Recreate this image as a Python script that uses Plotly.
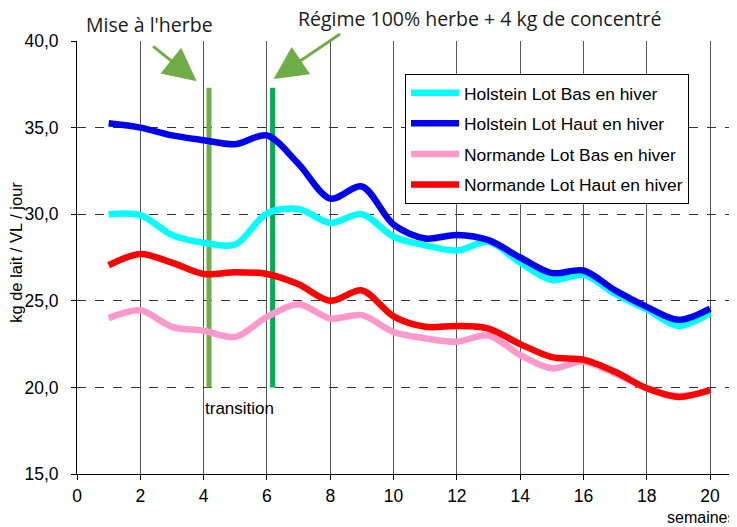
import plotly.graph_objects as go

# semaines
weeks = list(range(1, 21))

# kg de lait / VL / jour
holstein_bas = [30.0, 29.95, 28.8, 28.35, 28.25, 30.05, 30.3, 29.5, 30.0, 28.7,
                28.2, 27.9, 28.4, 27.2, 26.2, 26.5, 25.4, 24.5, 23.55, 24.3]
holstein_haut = [35.25, 35.0, 34.55, 34.27, 34.04, 34.55, 32.9, 30.9, 31.6, 29.4,
                 28.6, 28.8, 28.5, 27.5, 26.6, 26.75, 25.6, 24.65, 23.9, 24.55]
normande_bas = [24.0, 24.45, 23.5, 23.27, 22.92, 24.07, 24.8, 23.98, 24.17, 23.2,
                22.83, 22.64, 23.0, 21.87, 21.1, 21.5, 20.8, 19.95, 19.5, 19.8]
normande_haut = [27.05, 27.7, 27.2, 26.55, 26.65, 26.55, 25.95, 25.0, 25.6, 24.1,
                 23.5, 23.55, 23.4, 22.5, 21.75, 21.6, 20.9, 19.95, 19.45, 19.85]

series = [
    ("Holstein Lot Bas en hiver", holstein_bas, "#00FFFF"),
    ("Holstein Lot Haut en hiver", holstein_haut, "#0000F0"),
    ("Normande Lot Bas en hiver", normande_bas, "#FF99CC"),
    ("Normande Lot Haut en hiver", normande_haut, "#FF0000"),
]

# repères verticaux (semaine, couleur)
markers = [(4.17, "#70AD47"), (6.18, "#00B050")]
marker_bottom, marker_top = 20.0, 37.3

fig = go.Figure()

for week, color in markers:
    fig.add_trace(go.Scatter(x=[week, week], y=[marker_bottom, marker_top], mode="lines",
                             line=dict(color=color, width=5), showlegend=False, hoverinfo="skip"))

for i, (name, values, color) in enumerate(series):
    fig.add_trace(go.Scatter(x=weeks, y=values, mode="lines", name=name, legendgroup=str(i),
                             line=dict(color=color, width=6.5, shape="spline", smoothing=0.9)))

sans = "Liberation Sans, Arial, sans-serif"
axis_font = dict(family=sans, size=17.5, color="black")

# the page body has an 8px margin, so the figure is 8px smaller and shifted
fig.update_layout(
    width=729, height=519,
    margin=dict(l=69, r=0, t=33, b=53),
    plot_bgcolor="white", paper_bgcolor="white",
    font=axis_font,
    separators=",.",
    legend=dict(x=0.497, y=0.924, xanchor="left", yanchor="top",
                bordercolor="black", borderwidth=1, bgcolor="white",
                font=dict(family=sans, size=17.4, color="black"),
                traceorder="grouped", tracegroupgap=5, itemwidth=48),
    xaxis=dict(range=[0, 20.85], tickmode="linear", tick0=0, dtick=2, automargin=False,
               showgrid=True, gridcolor="#555555", gridwidth=1,
               showline=True, linecolor="black", linewidth=1,
               ticks="outside", ticklen=5, tickcolor="black", ticklabelstandoff=1,
               zeroline=False, tickfont=axis_font),
    yaxis=dict(range=[15, 40], tickmode="linear", tick0=15, dtick=5, automargin=False,
               tickformat=".1f",
               showgrid=True, gridcolor="#333333", gridwidth=1, griddash="dash",
               showline=True, linecolor="black", linewidth=1,
               ticks="outside", ticklen=5, tickcolor="black", ticklabelstandoff=9,
               zeroline=False, tickfont=axis_font),
)

fig.add_annotation(text="Mise à l'herbe", xref="paper", yref="paper", x=0.1106, y=1.037,
                   xanchor="center", yanchor="middle", showarrow=False,
                   font=dict(family="Open Sans, sans-serif", size=19.5, color="#1a1a1a"))
fig.add_annotation(text="Régime 100% herbe + 4 kg de concentré", xref="paper", yref="paper",
                   x=0.6106, y=1.052, xanchor="center", yanchor="middle", showarrow=False,
                   font=dict(family="Open Sans, sans-serif", size=19.5, color="#1a1a1a"))
fig.add_annotation(text="", x=3.78, y=37.68, ax=-45, ay=-36, showarrow=True,
                   arrowhead=2, arrowsize=2.2, arrowwidth=3, arrowcolor="#70AD47")
fig.add_annotation(text="", x=6.21, y=37.8, ax=68, ay=-46, showarrow=True,
                   arrowhead=2, arrowsize=2.2, arrowwidth=3, arrowcolor="#70AD47")
fig.add_annotation(text="transition", x=5.14, y=18.8, xanchor="center", yanchor="middle",
                   showarrow=False, font=dict(family=sans, size=17, color="black"))
fig.add_annotation(text="semaines", xref="paper", yref="paper", x=0.891, y=-0.1016,
                   xanchor="left", yanchor="middle", showarrow=False,
                   font=dict(family=sans, size=16, color="black"))
fig.add_annotation(text="kg de lait / VL / jour", xref="paper", yref="paper", x=-0.0925, y=0.513,
                   xanchor="center", yanchor="middle", textangle=-90, showarrow=False,
                   font=dict(family=sans, size=16.5, color="black"))

fig.write_html("out.html")
